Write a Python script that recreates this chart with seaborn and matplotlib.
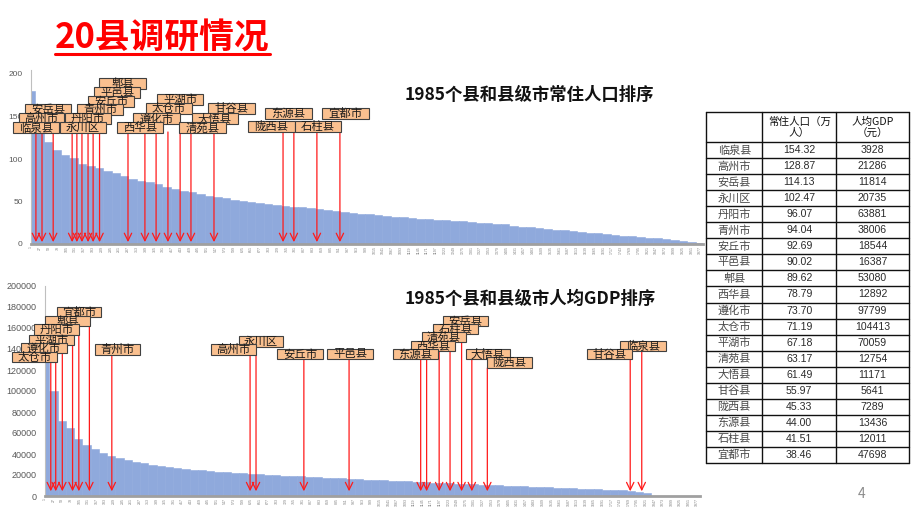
import numpy as np
import matplotlib
matplotlib.use("Agg")
import matplotlib.pyplot as plt
from matplotlib.patches import Rectangle
from matplotlib.lines import Line2D
import seaborn as sns

# ---------------- data ----------------
N_COUNTIES = 1985
tick_labels = list(range(1, N_COUNTIES + 1, 26))

# population ranking (万人), every 25 ranks
pop_rank = list(range(1, 1977, 25))
pop_value = [180, 136, 120, 111, 105, 101, 94, 91.5, 89.6, 86,
             83, 80.5, 77, 74.5, 72.5, 70.5, 67.5, 65, 62.8, 61.2,
             58.8, 57, 55.4, 53.8, 52.2, 50.7, 49.4, 48.2, 47, 46,
             45.1, 44, 43.3, 42.4, 41.3, 40.2, 39, 37.9, 36.5, 35.7,
             35, 34, 33, 32.2, 31.5, 30.7, 30, 29.2, 28.5, 27.7,
             27, 26.5, 26, 25, 24.5, 23.8, 23, 21.5, 20.5, 19.5,
             18.5, 17.6, 17, 16, 15, 14, 13.5, 12.5, 11.5, 10.5,
             10, 9.2, 8.5, 7.6, 6.5, 5.5, 4.5, 3.4, 2.5, 1.2]

# per-capita GDP ranking (元), every 25 ranks
gdp_rank = list(range(1, 1827, 25))
gdp_value = [150000, 100000, 71000, 64500, 54000, 48500, 45000, 41000, 38100, 35800,
             34000, 32300, 31000, 29800, 28700, 27700, 26700, 25800, 25000, 24300,
             23700, 23100, 22600, 22100, 21700, 21200, 20500, 20100, 19800, 19400,
             19000, 18600, 18300, 17900, 17400, 17100, 16700, 16350, 16000, 15700,
             15400, 15100, 14700, 14400, 14000, 13600, 13100, 12800, 12600, 12100,
             11850, 11500, 11100, 10950, 10700, 10300, 10000, 9600, 9300, 9000,
             8600, 8200, 7900, 7500, 7200, 6900, 6600, 6300, 6000, 5800,
             5500, 5000, 4000, 2500]

# 20 surveyed counties
table_county = ["临泉县", "高州市", "安岳县", "永川区", "丹阳市", "青州市", "安丘市", "平邑县",
                "郫县", "西华县", "遵化市", "太仓市", "平湖市", "清苑县", "大悟县", "甘谷县",
                "陇西县", "东源县", "石柱县", "宜都市"]
table_pop = ["154.32", "128.87", "114.13", "102.47", "96.07", "94.04", "92.69", "90.02",
             "89.62", "78.79", "73.70", "71.19", "67.18", "63.17", "61.49", "55.97",
             "45.33", "44.00", "41.51", "38.46"]
table_gdp = ["3928", "21286", "11814", "20735", "63881", "38006", "18544", "16387", "53080",
             "12892", "97799", "104413", "70059", "12754", "11171", "5641", "7289",
             "13436", "12011", "47698"]

# rank of each surveyed county in the two rankings (arrow targets)
pop_arrow_county = ["临泉县", "高州市", "安岳县", "永川区", "丹阳市", "青州市", "安丘市", "平邑县",
                    "郫县", "西华县", "遵化市", "太仓市", "平湖市", "清苑县", "大悟县", "甘谷县",
                    "陇西县", "东源县", "石柱县", "宜都市"]
pop_arrow_rank = [15, 33, 66, 122, 136, 151, 169, 184, 203, 287, 337, 370, 405, 441, 473,
                  541, 745, 777, 845, 913]
gdp_arrow_county = ["太仓市", "遵化市", "平湖市", "丹阳市", "郫县", "宜都市", "青州市", "高州市",
                    "永川区", "安丘市", "平邑县", "东源县", "西华县", "清苑县", "石柱县", "安岳县",
                    "大悟县", "陇西县", "甘谷县", "临泉县"]
gdp_arrow_rank = [18, 33, 53, 84, 103, 135, 203, 622, 640, 785, 922, 1139, 1157, 1195, 1228,
                  1263, 1294, 1341, 1774, 1809]

# ---------------- layout (pixels) ----------------
W, H = 920, 518
pop_boxes = {  # county: (left, top, width, height)
    "郫县": (99, 78, 47, 11), "平邑县": (94, 87, 46, 11), "安丘市": (88, 96, 46, 11),
    "平湖市": (157, 94, 46, 11), "太仓市": (146, 103, 46, 11), "甘谷县": (208, 103, 47, 11),
    "青州市": (77, 104, 46, 11), "安岳县": (25, 104, 46, 11), "东源县": (265, 108, 47, 11),
    "宜都市": (322, 108, 47, 11), "高州市": (19, 113, 45, 11), "丹阳市": (65, 113, 46, 11),
    "遵化市": (133, 113, 47, 11), "大悟县": (192, 113, 46, 11), "陇西县": (248, 121, 47, 11),
    "石柱县": (295, 121, 46, 11), "临泉县": (13, 122, 46, 11), "永川区": (60, 122, 46, 11),
    "西华县": (117, 122, 46, 11), "清苑县": (179, 122, 47, 11),
}
gdp_boxes = {
    "宜都市": (57, 307, 44, 10), "郫县": (45, 316, 45, 10), "安岳县": (443, 316, 45, 10),
    "丹阳市": (34, 324, 45, 11), "石柱县": (433, 324, 45, 10), "清苑县": (422, 332, 44, 10),
    "平湖市": (29, 335, 45, 10), "永川区": (239, 336, 44, 11), "西华县": (411, 341, 44, 10),
    "临泉县": (620, 341, 46, 10), "遵化市": (21, 343, 46, 10), "青州市": (95, 344, 45, 11),
    "高州市": (211, 344, 45, 11), "安丘市": (277, 349, 46, 10), "平邑县": (327, 349, 46, 10),
    "东源县": (393, 349, 45, 10), "大悟县": (466, 349, 44, 10), "甘谷县": (587, 349, 45, 10),
    "太仓市": (12, 352, 45, 10), "陇西县": (487, 357, 45, 11),
}

BAR_COLOR = "#8FA9DC"
BOX_FACE = "#FAC08F"
BOX_EDGE = "#404040"
ARROW_RED = "#FF1A1A"


def fx(x):
    return x / W


def fy(y):
    return 1 - y / H


sns.set_theme(style="white")
plt.rcParams["font.family"] = ["Noto Sans CJK SC", "DejaVu Sans"]

fig = plt.figure(figsize=(W / 100, H / 100), dpi=100)
fig.patch.set_facecolor("white")

# ---------------- axes ----------------
ax1 = fig.add_axes([fx(31), fy(244), 672 / W, 174 / H])
ax2 = fig.add_axes([fx(45), fy(496), 655 / W, 210 / H])

sns.barplot(x=pop_rank, y=pop_value, native_scale=True, width=1.0, color=BAR_COLOR,
            saturation=1, errorbar=None, linewidth=0.4, edgecolor=BAR_COLOR, ax=ax1)
sns.barplot(x=gdp_rank, y=gdp_value, native_scale=True, width=1.0, color=BAR_COLOR,
            saturation=1, errorbar=None, linewidth=0.4, edgecolor=BAR_COLOR, ax=ax2)

for ax, ymax, yticks, ysize in [
    (ax1, 174 / 0.85, [0, 50, 100, 150, 200], 6),
    (ax2, 200000, list(range(0, 200001, 20000)), 6.5),
]:
    ax.set_xlim(0.5, N_COUNTIES + 0.5)
    ax.set_ylim(0, ymax)
    ax.set_xlabel("")
    ax.set_ylabel("")
    ax.set_facecolor("none")
    ax.grid(False)
    for s in ["top", "right"]:
        ax.spines[s].set_visible(False)
    ax.spines["left"].set_color("#BFBFBF")
    ax.spines["left"].set_linewidth(0.8)
    ax.spines["bottom"].set_color("#A0A0A0")
    ax.spines["bottom"].set_linewidth(2.0)
    ax.set_yticks(yticks)
    ax.set_yticklabels([str(v) for v in yticks], fontsize=ysize, color="#595959",
                       family=["Liberation Sans", "DejaVu Sans"])
    ax.set_xticks(tick_labels)
    ax.set_xticklabels([str(v) for v in tick_labels], rotation=90, fontsize=2.6,
                       color="#808080", family=["Liberation Sans", "DejaVu Sans"])
    ax.tick_params(axis="both", length=0)
    ax.tick_params(axis="y", pad=6)
    ax.tick_params(axis="x", pad=1.5)


# ---------------- arrows & label boxes ----------------
def draw_labels(ax, boxes, counties, ranks, head_val, tails):
    for county, rank in zip(counties, ranks):
        left, top, w, h = boxes[county]
        tail = tails if tails is not None else top + h
        ax.annotate("", xy=(rank, head_val), xycoords="data",
                    xytext=(rank, fy(tail)), textcoords=("data", "figure fraction"),
                    arrowprops=dict(arrowstyle="->,head_length=0.45,head_width=0.22",
                                    color=ARROW_RED, lw=0.9, shrinkA=0, shrinkB=0),
                    annotation_clip=False, zorder=3)
    order = sorted(boxes.items(), key=lambda kv: kv[1][1])
    for i, (county, (left, top, w, h)) in enumerate(order):
        fig.add_artist(Rectangle((fx(left), fy(top + h)), w / W, h / H,
                                 transform=fig.transFigure, facecolor=BOX_FACE,
                                 edgecolor=BOX_EDGE, linewidth=0.8, zorder=10 + 2 * i))
        fig.text(fx(left + w / 2), fy(top + h / 2 + 0.3), county, ha="center", va="center",
                 fontsize=8.2, color="#1A1A1A", zorder=11 + 2 * i)


draw_labels(ax1, pop_boxes, pop_arrow_county, pop_arrow_rank, 2.2, 132)
draw_labels(ax2, gdp_boxes, gdp_arrow_county, gdp_arrow_rank, 4500, None)

# ---------------- titles ----------------
fig.text(fx(55), fy(38), "20县调研情况", fontsize=25, fontweight="bold", color="#FF0000",
         ha="left", va="center")
fig.add_artist(Line2D([fx(55), fx(270)], [fy(54), fy(54)], color="#FF0000", lw=2.2,
                      transform=fig.transFigure))
fig.text(fx(405), fy(95), "1985个县和县级市常住人口排序", fontsize=12.5, fontweight="bold",
         color="#111111", ha="left", va="center")
fig.text(fx(405), fy(299), "1985个县和县级市人均GDP排序", fontsize=12.5, fontweight="bold",
         color="#111111", ha="left", va="center")
fig.text(fx(862), fy(494), "4", fontsize=10, color="#8C8C8C", ha="center", va="center")

# ---------------- table ----------------
col_x = [706, 762.5, 836, 909]
head_top, head_bot, bottom = 111.7, 142.3, 462.7
row_h = (bottom - head_bot) / len(table_county)
row_y = [head_bot + i * row_h for i in range(len(table_county) + 1)]
for y in [head_top] + row_y:
    fig.add_artist(Line2D([fx(col_x[0]), fx(col_x[-1])], [fy(y), fy(y)], color="#111111",
                          lw=1.0, transform=fig.transFigure))
for x in col_x:
    fig.add_artist(Line2D([fx(x), fx(x)], [fy(head_top), fy(bottom)], color="#111111",
                          lw=1.0, transform=fig.transFigure))
cx = [(col_x[i] + col_x[i + 1]) / 2 for i in range(3)]
hy = (head_top + head_bot) / 2
fig.text(fx(cx[1]), fy(hy), "常住人口（万\n人）", fontsize=7.6, color="#111111",
         ha="center", va="center", linespacing=1.1, fontweight="medium")
fig.text(fx(cx[2]), fy(hy), "人均GDP\n（元）", fontsize=7.6, color="#111111",
         ha="center", va="center", linespacing=1.1, fontweight="medium")
for i, (c, p, g) in enumerate(zip(table_county, table_pop, table_gdp)):
    yc = row_y[i] + row_h / 2
    fig.text(fx(cx[0]), fy(yc), c, fontsize=8, color="#4A4A4A", ha="center", va="center")
    fig.text(fx(cx[1]), fy(yc), p, fontsize=7.6, color="#2B2B2B", ha="center", va="center",
             family=["Liberation Sans", "DejaVu Sans"])
    fig.text(fx(cx[2]), fy(yc), g, fontsize=7.6, color="#2B2B2B", ha="center", va="center",
             family=["Liberation Sans", "DejaVu Sans"])

fig.savefig("out.png", dpi=100, facecolor="white")
